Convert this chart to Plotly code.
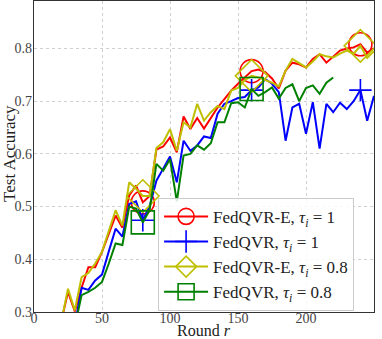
import plotly.graph_objects as go

# communication rounds (every 5 rounds)
rounds = list(range(20, 255, 5))

# test accuracy
acc_qvre_1 = [0.282, 0.338, 0.301, 0.346, 0.385, 0.385, 0.414, 0.450, 0.483, 0.460,
              0.521, 0.540, 0.508, 0.520, 0.608, 0.614, 0.631, 0.603, 0.671, 0.647,
              0.668, 0.648, 0.668, 0.688, 0.704, 0.720, 0.733, 0.745, 0.757, 0.760,
              0.755, 0.743, 0.724, 0.758, 0.773, 0.770, 0.764, 0.780, 0.789, 0.773,
              0.785, 0.796, 0.800, 0.802, 0.808, 0.792, 0.800]
acc_qvr_1 = [0.265, 0.270, 0.275, 0.346, 0.342, 0.360, 0.371, 0.415, 0.458, 0.443,
             0.505, 0.510, 0.474, 0.500, 0.549, 0.572, 0.595, 0.546, 0.625, 0.606,
             0.616, 0.633, 0.630, 0.676, 0.695, 0.700, 0.706, 0.708, 0.721, 0.726,
             0.742, 0.733, 0.717, 0.625, 0.688, 0.695, 0.638, 0.698, 0.610, 0.695,
             0.679, 0.697, 0.685, 0.700, 0.721, 0.663, 0.710]
acc_qvre_08 = [0.281, 0.344, 0.303, 0.366, 0.374, 0.392, 0.414, 0.455, 0.493, 0.464,
               0.546, 0.534, 0.520, 0.520, 0.611, 0.622, 0.647, 0.606, 0.660, 0.650,
               0.695, 0.663, 0.679, 0.691, 0.685, 0.720, 0.725, 0.740, 0.748, 0.745,
               0.740, 0.735, 0.728, 0.758, 0.780, 0.772, 0.764, 0.775, 0.789, 0.785,
               0.783, 0.790, 0.796, 0.790, 0.805, 0.782, 0.795]
acc_qvr_08 = [0.262, 0.268, 0.272, 0.332, 0.338, 0.346, 0.357, 0.392, 0.430, 0.427,
              0.500, 0.496, 0.470, 0.493, 0.581, 0.568, 0.590, 0.510, 0.597, 0.600,
              0.616, 0.608, 0.620, 0.660, 0.660, 0.696, 0.698, 0.688, 0.723, 0.710,
              0.717, 0.726, 0.705, 0.725, 0.732, 0.700, 0.725, 0.730, 0.714, 0.735,
              0.745]

marker_rounds = [80, 160, 240]

series = [
    ("FedQVR-E, <i>τ</i><sub><i>i</i></sub> = 1", acc_qvre_1, "#ff0000", "circle-open", 23),
    ("FedQVR, <i>τ</i><sub><i>i</i></sub> = 1", acc_qvr_1, "#0000ff", "cross-thin-open", 16),
    ("FedQVR-E, <i>τ</i><sub><i>i</i></sub> = 0.8", acc_qvre_08, "#bfbf00", "diamond-open", 25),
    ("FedQVR, <i>τ</i><sub><i>i</i></sub> = 0.8", acc_qvr_08, "#008000", "square-open", 23),
]

serif = "Liberation Serif"
fig = go.Figure()

for name, acc, color, symbol, size in series:
    xs = rounds[:len(acc)]
    fig.add_trace(go.Scatter(x=xs, y=acc, mode="lines", showlegend=False,
                             line=dict(color=color, width=2)))
    mx = [r for r in marker_rounds if r in xs]
    my = [acc[xs.index(r)] for r in mx]
    fig.add_trace(go.Scatter(x=mx, y=my, mode="markers", showlegend=False,
                             marker=dict(symbol=symbol, size=size, color=color,
                                         line=dict(color=color, width=1.6))))
    # legend entry
    fig.add_trace(go.Scatter(x=[None], y=[None], mode="lines+markers", name=name,
                             line=dict(color=color, width=2),
                             marker=dict(symbol=symbol, size=size, color=color,
                                         line=dict(color=color, width=1.6))))

axis_common = dict(showline=True, mirror=True, linecolor="#333333", linewidth=1.3,
                   showgrid=True, gridcolor="#d0d0d0", griddash="dot", gridwidth=1,
                   ticks="", zeroline=False, automargin=False,
                   tickfont=dict(family=serif, size=14, color="#444444"))

fig.update_xaxes(range=[0, 250], tick0=0, dtick=50, ticklabelstandoff=-7, **axis_common)
fig.update_yaxes(range=[0.3, 0.89], tick0=0.3, dtick=0.1, tickformat=".1f",
                 ticklabelstandoff=-2, **axis_common)

title_font = dict(family=serif, size=17, color="#222222")
fig.add_annotation(text="Round <i>r</i>", xref="paper", yref="paper", x=0.5, y=-0.058,
                   xanchor="center", yanchor="middle", showarrow=False,
                   font=dict(family=serif, size=16, color="#222222"))
fig.add_annotation(text="Test Accuracy", xref="paper", yref="paper", x=-0.072, y=0.51,
                   xanchor="center", yanchor="middle", textangle=-90, showarrow=False,
                   font=title_font)

fig.update_layout(
    width=382, height=339,
    margin=dict(l=34, r=8, t=1, b=27),
    plot_bgcolor="white", paper_bgcolor="white",
    legend=dict(x=0.365, y=0.367, xanchor="left", yanchor="top",
                bgcolor="rgba(255,255,255,0.85)", bordercolor="#cccccc", borderwidth=1,
                font=dict(family=serif, size=17, color="#222222"),
                itemwidth=44, tracegroupgap=0),
)

fig.write_html("out.html", post_script="document.body.style.margin='0';",
               config={"displayModeBar": False})
